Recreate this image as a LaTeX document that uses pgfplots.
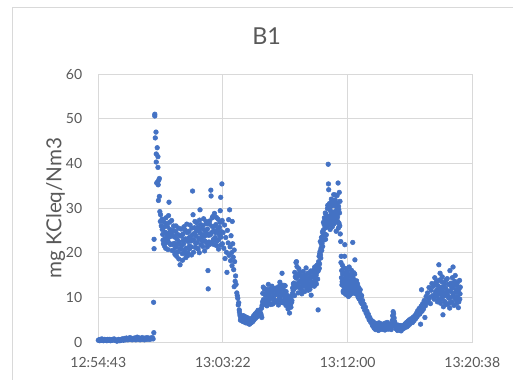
\documentclass[border=0pt]{standalone}
\usepackage{pgfplots}
\pgfplotsset{compat=1.18}
\usepackage{fontspec}
\setmainfont{Lato}
\definecolor{ptblue}{HTML}{4472C4}
\definecolor{txtgray}{HTML}{595959}
\definecolor{gridgray}{HTML}{D9D9D9}
\pgfplotsset{dots/.style={only marks, mark=*, mark size=1.75pt, color=ptblue, mark options={draw=ptblue, fill=ptblue}}}
\begin{document}
\begin{tikzpicture}
% page area
\path[use as bounding box] (-73.7pt,-28.3pt) rectangle (311pt,256.5pt);
% chart area frame
\draw[gridgray, line width=0.75pt] (-64.5pt,-28.3pt) -- (-64.5pt,251pt) -- (311pt,251pt);
\begin{axis}[
  at={(0pt,0pt)}, anchor=south west,
  scale only axis, width=280.5pt, height=201pt,
  xmin=0, xmax=1555.2, ymin=0, ymax=60,
  xtick={0,518.4,1036.8,1555.2},
  xticklabels={12:54:43,13:03:22,13:12:00,13:20:38},
  ytick={0,10,...,60},
  grid=major,
  major grid style={gridgray, line width=0.75pt},
  axis line style={gridgray, line width=0.75pt},
  tick style={draw=none},
  /pgf/number format/assume math mode=true,
  tick label style={font=\fontsize{10.5pt}{12pt}\selectfont, text=txtgray},
  xticklabel style={yshift=-7.7pt},
  yticklabel style={xshift=-8.5pt},
  clip=false,
]
% samples, first pass
\addplot[dots] coordinates {
% start-up, near zero
(0,0.4)(3,0.5)(6,0.3)(9,0.6)(12,0.4)(15,0.7)(18,0.5)(21,0.3)(24,0.5)(27,0.6)(30,0.4)(33,0.5)(36,0.3)(39,0.6)(42,0.5)(45,0.4)(48,0.6)(51,0.3)(54,0.5)(57,0.4)
(60,0.6)(63,0.5)(66,0.7)(69,0.4)(72,0.5)(75,0.3)(78,0.2)(81,0.4)(84,0.6)(87,0.5)(90,0.3)(93,0.4)(96,0.5)(99,0.7)(102,0.6)(105,0.4)(108,0.8)(111,0.6)(114,0.5)(117,0.9)
(120,0.7)(123,0.5)(126,0.6)(129,0.8)(132,1.0)(135,0.6)(138,0.7)(141,0.5)(144,0.8)(147,0.6)(150,0.9)(153,0.7)(156,0.5)(159,0.8)(162,1.1)(165,0.7)(168,0.6)(171,0.9)(174,0.5)(177,0.8)
(180,0.7)(183,1.0)(186,0.6)(189,0.8)(192,0.5)(195,0.9)(198,0.7)(201,0.6)(204,1.0)(207,0.7)(210,0.8)(213,0.6)(216,0.9)(219,0.7)(222,0.8)(225,1.0)(228,0.7)
% spike
(230,8.9)(231,2.1)(232,23.0)(232,20.9)(235,51.0)(235,50.6)(240,47.0)(237,45.7)(245,43.5)(241,42.1)(248,41.5)(241,40.3)(248,39.1)(254,36.6)(243,35.6)(249,35.2)(246,35.8)(251,36.2)(254,32.6)(250,31.7)(256,29.2)(259,28.5)(258,27.0)(262,26.0)
% first plateau
(265,27.5)(268,24.1)(271,22.0)(274,25.8)(277,23.2)(280,21.0)(283,26.5)(286,24.0)(289,22.7)(292,28.3)(294,31.3)(295,23.5)(298,25.2)(301,21.8)(304,24.6)(307,20.5)(310,23.9)(313,26.0)(316,22.1)(319,19.6)
(322,24.8)(325,21.3)(328,23.0)(331,20.2)(334,25.5)(337,22.4)(340,17.3)(343,21.0)(346,23.7)(349,19.8)(352,24.2)(355,22.0)(358,20.6)(361,25.1)(364,18.9)(367,22.8)(370,24.5)(373,20.0)(376,23.3)(379,21.5)
(382,26.2)(385,22.6)(388,19.5)(391,24.0)(392,33.8)(394,28.5)(397,22.9)(400,25.6)(403,21.2)(406,23.8)(409,26.7)(412,22.3)(415,20.8)(418,24.9)(421,27.3)(423,29.6)(424,23.1)(427,21.7)(430,25.4)(433,22.5)
(436,26.1)(439,23.6)(442,20.4)(445,24.7)(448,27.0)(451,22.2)(454,25.3)(456,16.0)(457,11.9)(459,23.9)(462,26.4)(465,21.9)(468,34.0)(469,32.7)(471,24.5)(474,27.8)(477,22.7)(480,25.0)(483,28.8)(486,23.4)
(489,26.3)(492,21.6)(495,24.8)(498,27.5)(501,22.9)(504,25.7)(507,29.4)(509,32.4)(510,23.5)(513,26.9)(514,35.4)(516,22.0)
% decline
(519,24.5)(522,21.0)(525,26.2)(527,18.7)(530,23.4)(533,20.1)(535,15.6)(537,25.0)(540,22.2)(542,27.4)(544,19.4)(546,29.6)(548,21.3)(550,18.2)(552,23.8)(554,20.0)(556,17.1)(557,27.0)(559,22.0)(561,19.0)
(563,16.2)(565,20.6)(567,18.0)(565,12.4)(569,13.6)(571,14.8)(573,12.9)(576,11.0)(578,10.4)(580,9.8)(582,8.3)(584,8.8)(586,7.2)(587,6.7)(589,6.1)
% low
(590,5.8)(593,5.2)(596,5.9)(599,4.8)(602,5.5)(605,4.6)(608,5.3)(611,4.9)(614,5.6)(617,4.4)(620,5.0)(623,4.2)(626,4.7)(629,4.0)(632,4.6)(635,4.3)(638,5.1)(641,4.5)(644,5.4)(647,4.9)
(650,5.8)(653,5.3)(656,6.2)(659,5.6)(662,6.8)(665,6.1)(668,7.0)(671,5.9)(674,6.5)(677,6.0)(680,5.5)
% second plateau
(683,9.0)(686,12.3)(689,8.4)(692,10.7)(695,9.3)(698,11.8)(701,8.1)(704,10.2)(707,12.9)(710,9.6)(713,8.7)(716,11.2)(719,10.0)(722,12.5)(725,8.5)(728,9.9)(731,11.5)(734,8.9)(737,10.6)(740,12.1)
(743,9.2)(746,10.9)(749,8.3)(752,11.7)(755,13.4)(758,9.5)(761,10.4)(764,15.4)(765,12.0)(768,8.8)(771,10.9)(774,9.4)(777,12.6)(780,8.2)(783,10.1)(786,9.0)(789,7.4)(792,8.6)(795,6.5)(798,9.7)
(801,7.8)(804,8.9)(807,10.8)
(810,11.5)(813,13.2)(816,10.4)(819,14.6)(822,17.8)(824,18.0)(825,12.3)(828,15.1)(831,11.0)(834,16.4)(837,13.6)(840,12.0)(843,14.9)(846,10.8)(849,13.3)(852,15.8)(855,12.5)(858,11.3)(861,14.2)(864,16.6)
(867,12.8)(870,13.9)(873,11.6)(876,15.3)(879,12.2)(882,14.0)(885,10.5)(888,13.4)(891,15.6)(894,12.9)(897,14.5)(900,16.8)(903,13.8)(906,15.0)(909,17.2)(912,14.1)(914,7.2)
% second peak
(915,16.0)(918,19.2)(920,17.5)(922,20.3)(925,18.8)(927,22.0)(929,20.5)(931,23.6)(933,21.4)(935,25.0)(937,22.8)(939,26.3)(941,24.1)(943,27.5)(945,23.0)(947,28.6)(949,25.7)(951,27.0)(953,29.9)(955,26.2)
(956,39.8)(957,35.4)(958,34.1)(959,28.1)(961,31.0)(963,26.8)(965,29.4)(967,27.5)(969,32.0)(971,28.8)(973,25.8)(975,30.5)(977,27.9)(979,33.0)(981,26.5)(983,29.0)(985,31.8)(987,27.2)(989,24.8)(991,30.2)
(993,32.8)(995,28.0)(997,35.6)(998,25.5)(1000,29.6)(1002,33.5)(1004,26.0)(1006,24.2)
% fall after peak
(1008,22.5)(1010,19.2)(1012,16.0)(1014,13.5)(1016,15.2)(1018,11.4)(1020,14.1)(1022,12.2)(1024,19.2)(1025,21.8)(1026,15.6)(1028,10.7)(1030,13.0)(1032,16.4)(1034,11.8)(1036,14.5)(1038,12.6)(1040,10.2)(1042,15.0)(1044,13.3)
(1046,11.1)(1048,14.8)(1050,12.0)(1052,16.1)(1054,13.7)(1056,10.9)(1058,22.3)(1059,14.3)(1061,12.4)(1063,15.5)(1065,11.6)(1067,18.4)(1068,13.2)(1070,10.8)
(1072,12.5)(1075,10.8)(1078,13.0)(1081,11.2)(1084,9.7)(1087,11.0)(1090,9.4)(1093,10.1)(1096,8.6)(1099,9.3)(1102,7.8)(1105,8.5)(1108,7.1)(1111,7.8)(1114,6.4)(1117,6.9)(1120,5.7)(1123,6.2)(1126,5.0)(1129,5.5)
(1132,4.5)(1135,4.9)(1138,4.0)
% second low
(1141,3.6)(1144,4.2)(1147,3.1)(1150,3.8)(1153,2.8)(1156,3.5)(1159,4.0)(1162,3.2)(1165,2.6)(1168,3.7)(1171,3.3)(1174,4.1)(1177,2.9)(1180,3.6)(1183,3.0)(1186,3.9)(1189,3.4)(1192,2.7)(1195,3.8)(1198,3.2)
(1201,4.4)(1204,3.5)(1207,2.9)(1210,3.7)(1213,3.1)(1216,4.0)(1219,3.4)(1222,4.8)(1224,5.9)(1226,6.8)(1228,6.3)(1230,5.4)(1232,4.6)(1235,3.8)(1238,3.0)(1241,3.5)(1244,2.6)(1247,3.2)(1250,2.8)(1253,3.6)
(1256,3.0)(1259,2.5)(1262,3.3)(1265,2.9)(1268,3.5)(1271,3.1)(1274,3.8)(1277,3.3)(1280,3.9)(1283,3.4)(1286,4.2)(1289,3.7)(1292,4.5)(1295,4.0)(1298,4.8)
% final rise
(1301,4.3)(1304,5.0)(1307,4.4)(1310,5.6)(1313,4.8)(1316,5.9)(1319,5.2)(1322,6.4)(1325,5.6)(1328,7.0)(1331,6.1)(1334,7.5)(1337,6.3)(1340,4.0)(1342,8.0)(1344,11.7)(1346,6.9)(1349,8.6)(1352,7.4)(1355,9.3)
(1358,5.5)(1360,8.1)(1363,10.2)(1366,8.8)(1369,11.0)(1372,9.4)(1375,12.2)(1378,10.0)(1381,8.6)(1384,11.6)(1387,13.1)(1390,10.4)(1393,12.5)(1396,9.6)(1399,14.4)(1402,11.2)
(1405,12.8)(1408,10.3)(1411,13.7)(1414,9.5)(1416,17.3)(1418,12.0)(1421,15.4)(1423,8.7)(1426,11.8)(1429,13.5)(1431,10.0)(1433,6.1)(1435,7.9)(1437,12.4)(1440,9.1)(1443,11.0)(1446,13.9)(1449,8.4)(1452,10.7)(1455,12.9)
(1458,9.8)(1461,7.6)(1462,16.0)(1464,11.5)(1467,13.2)(1470,9.0)(1473,12.1)(1475,16.8)(1476,10.4)(1479,8.2)(1482,13.6)(1485,11.1)(1488,9.4)(1491,12.7)(1494,10.2)(1497,7.7)(1500,11.9)(1503,9.6)(1505,12.3)
};
% samples, second pass (in-between readings)
\addplot[dots] coordinates {
% first plateau
(266,25.2)(269,22.8)(272,26.9)(275,21.5)(278,24.6)(281,27.8)(284,22.3)(287,25.9)(290,20.7)(293,24.4)(296,26.8)(299,22.0)(302,23.7)(305,27.2)(308,21.9)(311,25.0)(314,20.3)(317,23.5)(320,21.2)(323,26.0)
(326,19.2)(329,24.1)(332,22.0)(335,18.6)(338,23.9)(341,20.8)(344,25.3)(347,21.6)(350,18.3)(353,22.7)(356,25.8)(359,19.9)(362,23.1)(365,21.0)(368,26.4)(371,19.3)(374,22.5)(377,24.8)(380,20.9)(383,23.6)
(386,21.3)(389,25.5)(393,22.8)(396,20.1)(399,24.3)(402,27.0)(405,22.1)(408,24.9)(411,21.0)(414,25.7)(417,23.2)(420,20.0)(423,24.4)(426,26.3)(429,22.9)(432,24.0)(435,21.4)(438,27.6)(441,25.1)(444,22.6)
(447,23.9)(450,26.5)(453,21.3)(456,24.2)(460,22.4)(463,27.1)(466,24.0)(470,22.1)(473,25.9)(476,28.1)(479,23.0)(482,21.8)(485,26.0)(488,24.5)(491,27.9)(494,22.6)(497,25.2)(500,20.8)(503,24.0)(506,26.8)
(509,21.7)(512,24.7)(515,27.2)
% first low
(591,4.9)(595,5.6)(598,5.1)(601,4.6)(604,5.9)(607,4.5)(610,5.6)(613,4.3)(616,5.2)(619,4.7)(622,5.4)(625,4.1)(628,4.9)(631,4.3)(634,5.0)(637,4.6)(640,5.4)(643,4.8)(646,5.9)(649,5.2)
(652,6.3)(655,5.5)(658,6.6)(661,5.9)(664,7.1)(667,6.4)(670,6.8)(673,7.2)(676,6.3)(679,7.6)(681,8.2)
% second plateau
(684,10.9)(687,9.5)(690,11.9)(693,8.8)(696,10.4)(699,9.2)(702,11.3)(705,8.6)(708,10.5)(711,11.8)(714,9.9)(717,8.4)(720,11.1)(723,9.7)(726,11.9)(729,10.6)(732,9.4)(735,12.0)(738,9.1)(741,10.7)
(744,11.6)(747,9.3)(750,12.4)(753,10.0)(756,11.2)(759,12.8)(762,8.9)(766,10.6)(769,11.8)(772,12.7)(775,10.3)(778,9.5)(781,11.3)(784,8.7)(787,10.4)(790,9.1)(793,7.9)(796,9.9)(799,8.4)(802,10.2)
(805,9.3)(808,12.1)(811,13.0)(814,11.9)(817,15.6)(820,12.8)(823,14.3)(826,16.9)(829,13.1)(832,14.8)(835,12.4)(838,15.7)(841,13.4)(844,11.7)(847,14.2)(850,12.7)(853,13.9)(856,14.9)(859,12.6)(862,15.0)
(865,13.5)(868,11.9)(871,15.4)(874,13.0)(877,14.4)(880,11.8)(883,15.9)(886,12.7)(889,14.7)(892,13.2)(895,16.1)(898,12.5)(901,14.9)(904,16.3)(907,13.0)(910,15.7)(913,16.5)
% second peak
(916,18.0)(919,16.5)(921,19.8)(923,22.5)(924,19.5)(926,21.0)(928,23.4)(930,22.1)(932,24.6)(934,22.9)(936,26.8)(938,24.3)(940,27.8)(942,25.5)(944,28.9)(946,26.4)(948,24.0)(950,28.2)(952,25.8)(954,30.6)
(960,27.3)(962,29.9)(964,25.2)(966,30.9)(968,28.4)(970,26.2)(972,31.4)(974,27.3)(976,29.1)(978,31.3)(980,28.2)(982,30.7)(984,27.6)(986,32.9)(988,29.3)(990,26.9)(992,28.6)(994,31.1)(996,27.0)(999,30.4)
(1001,26.6)(1003,28.9)(1005,31.5)
% fall after peak
(1009,17.8)(1011,14.4)(1013,12.8)(1015,17.2)(1017,13.9)(1019,11.1)(1021,16.6)(1023,13.0)(1027,12.0)(1029,14.9)(1031,11.5)(1033,13.8)(1035,15.7)(1037,11.0)(1039,13.9)(1041,12.3)(1043,16.8)(1045,12.8)(1047,10.6)(1049,13.5)
(1051,15.2)(1053,11.6)(1055,14.6)(1057,12.9)(1060,11.3)(1062,14.0)(1064,12.8)(1066,15.2)(1069,12.0)(1071,11.4)(1074,13.7)(1077,11.9)(1080,10.1)(1083,12.2)(1086,10.5)(1089,11.7)(1092,8.9)(1095,10.4)
% second low
(1142,4.6)(1146,3.3)(1149,4.3)(1152,3.4)(1155,4.1)(1158,3.0)(1161,3.8)(1164,3.4)(1167,4.3)(1170,2.8)(1173,3.6)(1176,3.2)(1179,4.0)(1182,3.5)(1185,2.8)(1188,3.8)(1191,4.2)(1194,3.1)(1197,3.6)(1200,2.9)
(1203,3.9)(1206,4.1)(1209,3.3)(1212,4.0)(1215,3.6)(1218,2.8)(1221,3.9)(1225,4.9)(1227,5.4)(1229,4.4)(1231,3.6)(1234,4.2)(1237,3.4)(1240,2.9)(1243,3.4)(1246,3.8)(1249,3.2)(1252,2.7)(1255,3.4)(1258,3.7)
(1261,2.9)(1264,3.6)(1267,3.2)(1270,3.8)(1273,3.4)(1276,4.1)(1279,3.6)(1282,4.4)(1285,3.8)(1288,4.7)(1291,4.1)(1294,5.0)(1297,4.4)(1300,5.2)
% final cluster
(1401,10.6)(1404,13.4)(1407,11.6)(1410,9.0)(1413,12.6)(1417,11.0)(1420,13.9)(1422,10.7)(1425,9.6)(1428,12.3)(1430,14.6)(1432,11.3)(1436,10.4)(1439,13.1)(1442,8.9)(1445,12.0)(1448,10.3)(1451,14.2)(1454,11.4)(1457,8.6)
(1460,13.0)(1463,10.0)(1466,8.8)(1469,12.4)(1472,14.4)(1474,10.9)(1478,12.8)(1481,9.9)(1484,14.9)(1487,11.8)(1490,8.7)(1493,13.3)(1496,11.2)(1499,9.0)(1502,13.8)(1504,10.8)
};
\end{axis}
\node[anchor=base, text=txtgray, font=\fontsize{17.5pt}{20pt}\selectfont] at (126.3pt,223.3pt) {B1};
\node[rotate=90, text=txtgray, font=\fontsize{15.5pt}{18pt}\selectfont] at (-31.9pt,100.5pt) {mg KCleq/Nm3};
\end{tikzpicture}
\end{document}
